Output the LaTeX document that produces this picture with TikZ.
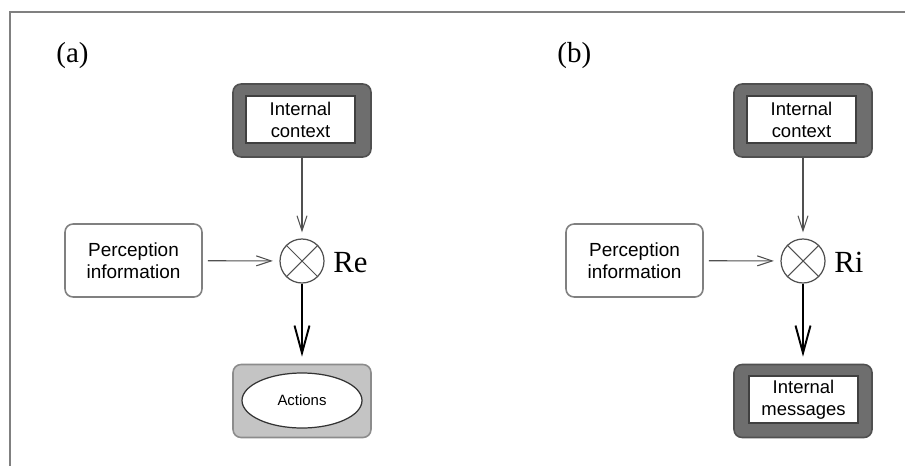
\documentclass[tikz,border=0pt]{standalone}
\usepackage{fontspec}
\setmainfont{Liberation Serif}
\setsansfont{Liberation Sans}
\usetikzlibrary{arrows.meta,shapes.geometric}
\definecolor{darkfill}{HTML}{6E6E6E}
\definecolor{lightfill}{HTML}{C4C4C4}
\definecolor{edgegray}{HTML}{505050}
\tikzset{
  outerbox/.style={draw=edgegray, line width=0.9pt, rounded corners=0.16cm,
    minimum width=2.76cm, minimum height=1.46cm, inner sep=0pt},
  darkbox/.style={outerbox, fill=darkfill},
  lightbox/.style={outerbox, fill=lightfill, draw=black!45},
  textbox/.style={draw=black!75, fill=white, line width=0.8pt,
    minimum width=2.18cm, minimum height=0.94cm, inner sep=0pt, align=center,
    font=\sffamily\fontsize{10.5}{12.5}\selectfont},
  percbox/.style={outerbox, draw=black!50, fill=white, minimum width=2.74cm,
    align=center, font=\sffamily\fontsize{10.8}{12.5}\selectfont},
  actbox/.style={ellipse, draw=black!80, fill=white, line width=0.7pt,
    minimum width=2.4cm, minimum height=1.1cm, inner sep=0pt,
    font=\sffamily\fontsize{8.5}{10}\selectfont},
  mixer/.style={circle, draw=edgegray, line width=0.7pt, minimum size=0.88cm, inner sep=0pt},
  mixlabel/.style={anchor=base west, inner sep=0pt, font=\fontsize{17.5}{20}\selectfont},
  panellabel/.style={anchor=base west, inner sep=0pt, font=\fontsize{16.5}{19}\selectfont},
  thinarrow/.style={-{Straight Barb[length=0.3cm,width=0.2cm]}, draw=edgegray, line width=0.6pt},
  thickarrow/.style={-{Straight Barb[length=0.55cm,width=0.3cm]}, line width=1.1pt}
}
\begin{document}
\begin{tikzpicture}[x=0.02cm,y=-0.02cm]
  \useasboundingbox (0,0) rectangle (905,466);
  \draw[black!50, line width=1pt] (10,466) -- (10,12) -- (905,12);

  % panel (a)
  \node[panellabel] (laba) at (56,62.5) {(a)};
  \node[darkbox] (ctxa) at (302,120.5) {};
  \node[textbox] (ctxatext) at (300.5,119.5) {Internal\\context};
  \node[percbox] (perca) at (133.5,260.5) {Perception\\information};
  \node[mixer] (mixa) at (302,261) {};
  \node[mixlabel] (rea) at (333,272) {Re};
  \node[lightbox] (acta) at (302,401) {};
  \node[actbox] (actatext) at (302,400.5) {Actions};

  % panel (b)
  \node[panellabel] (labb) at (557,62.5) {(b)};
  \node[darkbox] (ctxb) at (803,120.5) {};
  \node[textbox] (ctxbtext) at (801.5,119.5) {Internal\\context};
  \node[percbox] (percb) at (634.5,260.5) {Perception\\information};
  \node[mixer] (mixb) at (803,261) {};
  \node[mixlabel] (rib) at (834,272) {Ri};
  \node[darkbox] (msgb) at (803,401) {};
  \node[textbox] (msgbtext) at (803.5,399.5) {Internal\\messages};

  \begin{scope}[draw=edgegray, line width=0.6pt]
    \draw (mixa.45) -- (mixa.225) (mixa.135) -- (mixa.315);
    \draw (mixb.45) -- (mixb.225) (mixb.135) -- (mixb.315);
  \end{scope}

  \begin{scope}[thinarrow]
    \draw[shorten >=0.12cm] (ctxa) -- (mixa);
    \draw[shorten <=0.1cm, shorten >=0.13cm] (perca) -- (mixa);
    \draw[shorten >=0.12cm] (ctxb) -- (mixb);
    \draw[shorten <=0.1cm, shorten >=0.13cm] (percb) -- (mixb);
  \end{scope}
  \draw[thickarrow, shorten >=0.14cm] (mixa) -- (acta);
  \draw[thickarrow, shorten >=0.14cm] (mixb) -- (msgb);
\end{tikzpicture}
\end{document}
